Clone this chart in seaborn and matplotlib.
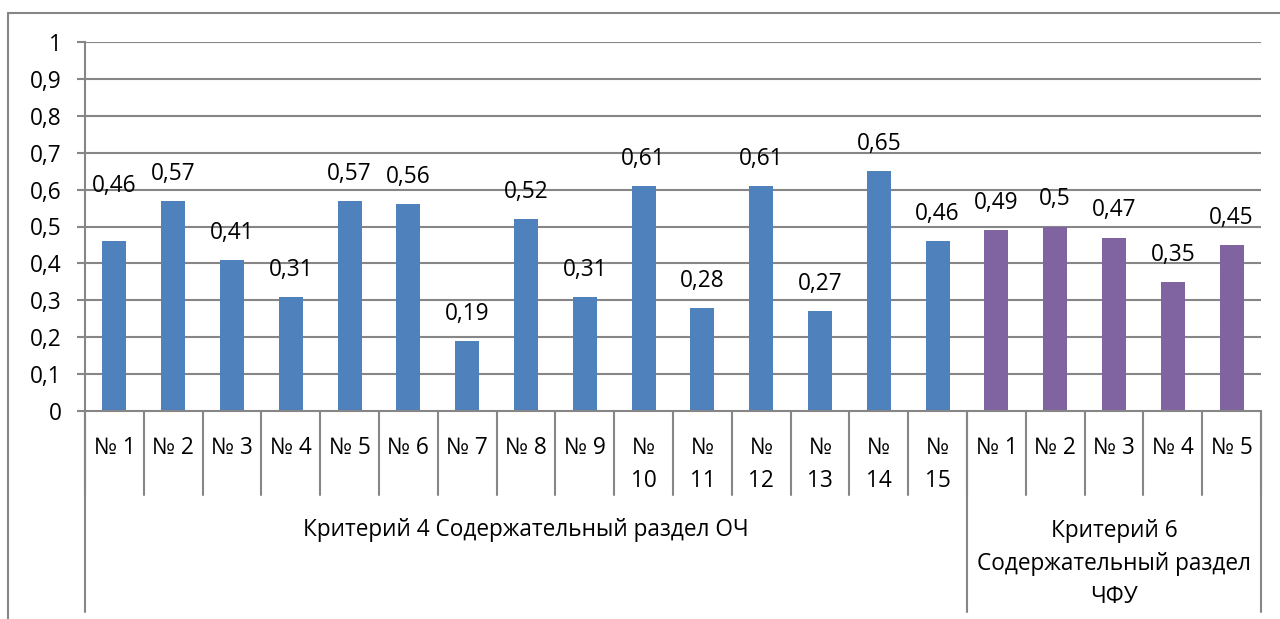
# =========================================
# CRITERIA SCORES BAR CHART
# =========================================

import pandas as pd
import numpy as np

import matplotlib
matplotlib.use("Agg")
import matplotlib.pyplot as plt
from matplotlib.lines import Line2D
import seaborn as sns


# =========================================
# DATA
# =========================================

item_labels = [
    "№ 1", "№ 2", "№ 3", "№ 4", "№ 5", "№ 6", "№ 7", "№ 8", "№ 9",
    "№\n10", "№\n11", "№\n12", "№\n13", "№\n14", "№\n15",
    "№ 1", "№ 2", "№ 3", "№ 4", "№ 5",
]

values = [
    0.46, 0.57, 0.41, 0.31, 0.57, 0.56, 0.19, 0.52, 0.31, 0.61,
    0.28, 0.61, 0.27, 0.65, 0.46,
    0.49, 0.50, 0.47, 0.35, 0.45,
]

group_names = [
    "Критерий 4 Содержательный раздел ОЧ",
    "Критерий 6\nСодержательный раздел\nЧФУ",
]

group_sizes = [15, 5]

y_ticks = [0, 0.1, 0.2, 0.3, 0.4, 0.5, 0.6, 0.7, 0.8, 0.9, 1]


# =========================================
# DATAFRAME
# =========================================

groups = []
for name, size in zip(group_names, group_sizes):
    groups += [name] * size

df = pd.DataFrame({
    "pos": [str(i) for i in range(len(values))],
    "value": values,
    "group": groups,
})


# =========================================
# STYLE
# =========================================

sns.set_style("white")
plt.rcParams["font.family"] = ["Open Sans", "DejaVu Sans"]
plt.rcParams["text.color"] = "black"
plt.rcParams["ytick.color"] = "black"

FS = 16.3
GRID = "#868686"
palette = {group_names[0]: "#4F81BD", group_names[1]: "#8064A2"}

W, H = 1280, 619
fig = plt.figure(figsize=(W / 100, H / 100), dpi=100)

# plot area in pixels: x 85..1261, y 42..411
ax = fig.add_axes([
    85 / W,
    1 - 411 / H,
    (1261 - 85) / W,
    (411 - 42) / H,
])


def ay(py):
    # pixel y -> axes fraction
    return (411 - py) / (411 - 42)


# =========================================
# BARS
# =========================================

sns.barplot(
    data=df,
    x="pos",
    y="value",
    hue="group",
    palette=palette,
    dodge=False,
    width=0.41,
    saturation=1,
    linewidth=0,
    legend=False,
    ax=ax,
)

ax.set_xlim(-0.5, len(values) - 0.5)
ax.set_ylim(0, 1)

ax.set_yticks(y_ticks)
ax.set_yticklabels([("%g" % t).replace(".", ",") for t in y_ticks], fontsize=FS)
ax.tick_params(axis="y", left=True, length=6, width=1.5, color=GRID,
               labelcolor="black", pad=11)
ax.set_xticks([])
ax.set_xlabel("")
ax.set_ylabel("")

for t in y_ticks[1:]:
    ax.axhline(t, color=GRID, lw=1.5, zorder=0)

for s in ["top", "right"]:
    ax.spines[s].set_visible(False)
ax.spines["left"].set_color(GRID)
ax.spines["left"].set_linewidth(1.5)
ax.spines["bottom"].set_color(GRID)
ax.spines["bottom"].set_linewidth(1.5)


# =========================================
# DATA LABELS
# =========================================

for i, v in enumerate(values):
    pad = 40 if i == 0 else 19.5
    ax.annotate(
        ("%g" % v).replace(".", ","),
        (i, v),
        xytext=(0, pad),
        textcoords="offset points",
        ha="center",
        va="center",
        fontsize=FS,
    )


# =========================================
# CATEGORY AXIS
# =========================================

tr = ax.get_xaxis_transform()

for i, lab in enumerate(item_labels):
    ax.text(i, ay(436), lab, transform=tr, ha="center", va="top",
            fontsize=FS, linespacing=1.5)

bounds = np.cumsum([0] + group_sizes) - 0.5
for b in np.arange(-0.5, len(values)):
    ax.add_line(Line2D([b, b], [0, ay(495)], transform=tr,
                       color=GRID, lw=1.5, clip_on=False))
for b in bounds:
    ax.add_line(Line2D([b, b], [0, ay(612)], transform=tr,
                       color=GRID, lw=1.5, clip_on=False))

group_y = [530, 564]
for k, name in enumerate(group_names):
    mid = (bounds[k] + bounds[k + 1]) / 2
    ax.text(mid, ay(group_y[k]), name, transform=tr, ha="center", va="center",
            fontsize=FS, linespacing=1.5)


# =========================================
# OUTER BORDER
# =========================================

fig.add_artist(Line2D([8 / W, 8 / W], [0, 1 - 13 / H], color=GRID, lw=1.5))
fig.add_artist(Line2D([8 / W, 1], [1 - 13 / H, 1 - 13 / H], color=GRID, lw=1.5))

plt.savefig("out.png", dpi=100)
plt.close()
